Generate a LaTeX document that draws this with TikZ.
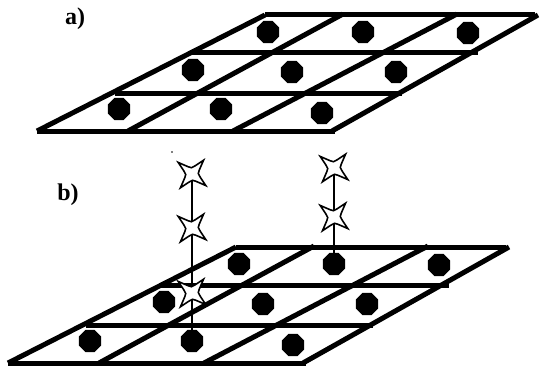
\documentclass[tikz,border=0pt]{standalone}
\usepackage{fontspec}
\setmainfont{Liberation Serif}
\usetikzlibrary{shapes.geometric}
\tikzset{
  gridline/.style={line width=5pt},
  dot/.style={regular polygon, regular polygon sides=8, fill=black, draw=none, inner sep=0pt, minimum size=24pt},
  stem/.style={line width=1.3pt},
  panellabel/.style={font=\fontsize{24}{28}\selectfont\bfseries, inner sep=0pt},
  fourstar/.pic={
    \filldraw[fill=white, draw=black, line width=1.6pt, line join=miter]
      (40:18) .. controls (70:7) .. (85:6.3)
      .. controls (100:7) .. (130:18)
      .. controls (160:7) .. (175:6.3)
      .. controls (190:7) .. (220:18)
      .. controls (250:7) .. (265:6.3)
      .. controls (280:7) .. (310:18)
      .. controls (340:7) .. (355:6.3)
      .. controls (10:7) .. (40:18) -- cycle;
  }
}
\newcommand\planegrid[1]{%
  \draw[gridline] (37,131) -- (335,131);
  \draw[gridline] (115,93) -- (402,93);
  \draw[gridline] (190,53) -- (478,53);
  \draw[gridline] (265,15) -- (535,15);
  \draw[gridline] (37,131) -- (265,15);
  \draw[gridline] (128,131) -- (343,14);
  \draw[gridline] (233,131) -- (457,14);
  \draw[gridline] (332,131) -- (538,15);
  \node[dot] (#1-1) at (268,32) {};
  \node[dot] (#1-2) at (363,32) {};
  \node[dot] (#1-3) at (468,33) {};
  \node[dot] (#1-4) at (193,70) {};
  \node[dot] (#1-5) at (292,72) {};
  \node[dot] (#1-6) at (396,72) {};
  \node[dot] (#1-7) at (119,109) {};
  \node[dot] (#1-8) at (221,109) {};
  \node[dot] (#1-9) at (322,113) {};
}
\begin{document}
\begin{tikzpicture}[x=1pt, y=-1pt]
  \useasboundingbox (0,0) rectangle (540,369);
  % panel a
  \node[panellabel] (la) at (75,19) {a)};
  \planegrid{a}
  % panel b
  \node[panellabel] (lb) at (68,195) {b)};
  \begin{scope}[shift={(-29,232)}]
    \planegrid{b}
  \end{scope}
  % stars
  \coordinate (sl1) at (192,174);
  \coordinate (sl2) at (192,228);
  \coordinate (sl3) at (192,293);
  \coordinate (sr1) at (334,168);
  \coordinate (sr2) at (334,217);
  \draw[stem] (sl1) -- (b-8.center);
  \draw[stem] (sr1) -- (b-2.center);
  \pic at (sl1) {fourstar};
  \pic at (sl2) {fourstar};
  \pic at (sl3) {fourstar};
  \pic at (sr1) {fourstar};
  \pic at (sr2) {fourstar};
  \fill (172,152) circle (0.8);
\end{tikzpicture}
\end{document}
